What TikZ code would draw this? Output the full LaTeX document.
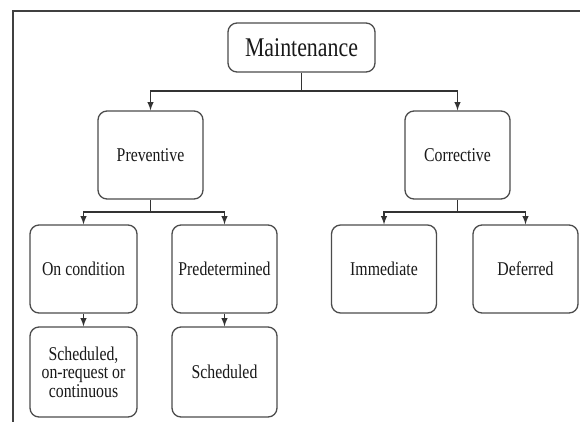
\documentclass[tikz,border=0pt]{standalone}
\usepackage{fontspec}
\setmainfont{Liberation Serif}[FakeStretch=0.81]
\usepackage{tikz}
\usetikzlibrary{positioning}

\tikzset{
  box/.style={draw=black!70, line width=1.3pt, rounded corners=9pt, fill=white,
    minimum width=105pt, minimum height=88pt, align=center, inner sep=0pt,
    text=black!90, font=\fontsize{19.5}{18.5}\selectfont},
  link/.style={draw=black!80, line width=1.8pt}
}

\begin{document}
\begin{tikzpicture}[>=latex, x=1pt, y=-1pt]
  \useasboundingbox (0,0) rectangle (580,421);
  \clip (0,0) rectangle (580,421);
  \fill [white] (0,0) rectangle (580,421);
  % outer frame
  \draw [black!75, line width=2.2pt] (13,11) rectangle (620,460);

  % nodes
  \node [box, minimum width=147pt, minimum height=49pt, font=\fontsize{27}{27}\selectfont] (maint) at (301.5,47.5) {Maintenance};
  \node [box] (prev) at (150.5,155) {Preventive};
  \node [box] (corr) at (457.5,155) {Corrective};
  \node [box, minimum width=107pt] (oncond) at (83.5,269) {On condition};
  \node [box] (predet) at (224.5,269) {Predetermined};
  \node [box] (immed) at (384,269) {Immediate};
  \node [box] (defer) at (525.5,269) {Deferred};
  \node [box, minimum width=107pt, minimum height=90pt] (schedA) at (83.5,372) {Scheduled,\\on-request or\\continuous};
  \node [box, minimum height=90pt] (schedB) at (224.5,372) {Scheduled};

  % bus lines
  \coordinate (busA) at (0,91);
  \coordinate (busB) at (0,212);
  \draw [link] (maint.south) -- (maint.south |- busA);
  \draw [link, ->] (maint.south |- busA) -| (prev.north);
  \draw [link, ->] (maint.south |- busA) -| (corr.north);
  \draw [link] (prev.south) -- (prev.south |- busB);
  \draw [link, ->] (prev.south |- busB) -| (oncond.north);
  \draw [link, ->] (prev.south |- busB) -| (predet.north);
  \draw [link] (corr.south) -- (corr.south |- busB);
  \draw [link, ->] (corr.south |- busB) -| (immed.north);
  \draw [link, ->] (corr.south |- busB) -| (defer.north);
  \draw [link, ->] (oncond) -- (schedA);
  \draw [link, ->] (predet) -- (schedB);
\end{tikzpicture}
\end{document}
